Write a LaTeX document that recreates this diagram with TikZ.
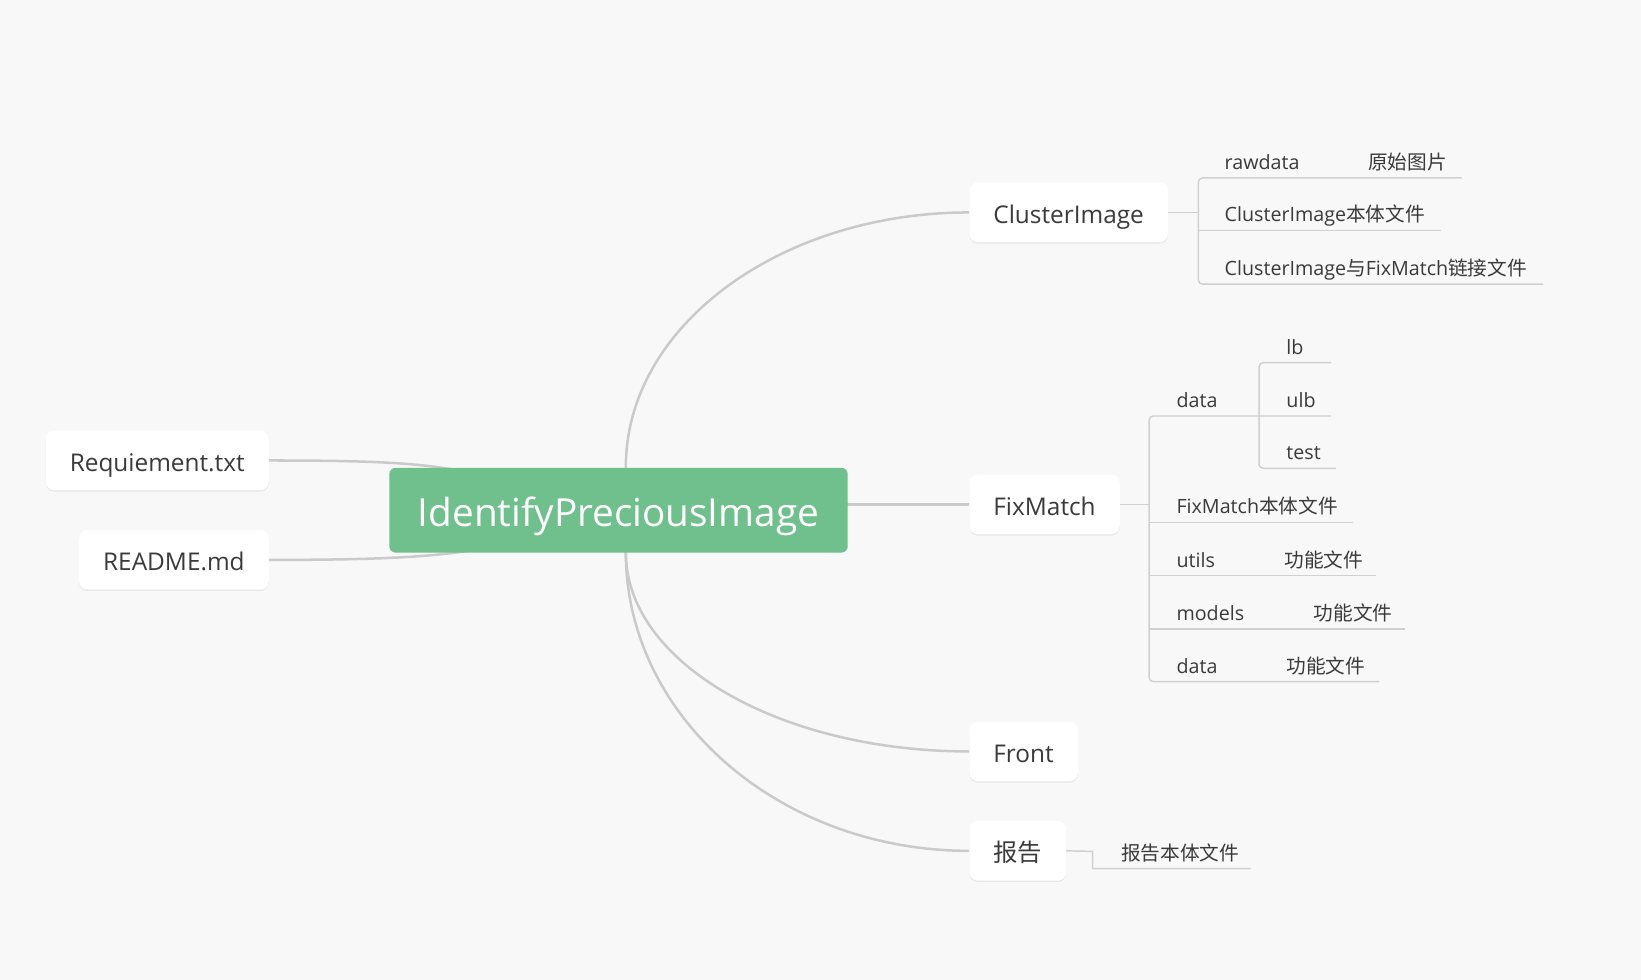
\documentclass[tikz,border=0pt]{standalone}
\usepackage{fontspec}
\setmainfont{Open Sans}
\newfontfamily\cjk{Noto Sans CJK SC}
\usetikzlibrary{shadows}
\definecolor{bgc}{HTML}{F8F8F8}
\definecolor{linec}{HTML}{CACACA}
\definecolor{subline}{HTML}{D0D0D0}
\definecolor{rootc}{HTML}{6FC08D}
\definecolor{txt}{HTML}{3A3A3A}
\newcommand{\zh}[1]{{\cjk #1}}
\begin{document}
\begin{tikzpicture}[x=1pt,y=-1pt,
  box/.style={fill=white, rounded corners=8pt, inner xsep=23pt, inner ysep=0pt,
    minimum height=57pt, text=txt, font=\fontsize{23.3}{28}\selectfont,
    text height=21pt, text depth=0pt,
    drop shadow={shadow xshift=0pt, shadow yshift=-1.2pt, opacity=0.07, fill=black}},
  rootbox/.style={fill=rootc, rounded corners=6pt, minimum width=438pt,
    minimum height=81pt, inner sep=0pt, text=white, font=\fontsize{37}{42}\selectfont,
    text height=31pt, text depth=0pt},
  lbl/.style={anchor=base west, inner sep=0pt, text=txt, font=\fontsize{18.8}{22}\selectfont},
  branch/.style={draw=linec, line width=2.4pt},
  subl/.style={draw=subline, line width=1.4pt},
]
\useasboundingbox[fill=bgc] (0,0) rectangle (1568,936);

% boxes
\node[box, anchor=west] (ci) at (926,203) {ClusterImage};
\node[box, anchor=west] (fm) at (926,482) {FixMatch};
\node[box, anchor=west] (fr) at (926,718) {Front};
\node[box, anchor=west] (bg) at (926,813) {\zh{报告}};
\node[box, anchor=east] (req) at (257,440) {Requiement.txt};
\node[box, anchor=east] (rdm) at (257,535) {README.md};

% main branches (drawn below the root box)
\coordinate (rc) at (591,487.5);
\draw[branch] (req.east) .. controls (350,440) and (400,442) .. (440,450) -- (rc);
\draw[branch] (rdm.east) .. controls (350,535) and (410,533) .. (455,525) -- (rc);
\draw[branch] (598,460) -- (598,446) .. controls (598,312) and (745,203) .. (ci.west);
\draw[branch] (598,515) -- (598,528) .. controls (598,633) and (745,718) .. (fr.west);
\draw[branch] (598,515) -- (598,528) .. controls (598,685) and (745,813) .. (bg.west);
\draw[branch] (780,482) -- (fm.west);

\node[rootbox] (r) at (rc) {IdentifyPreciousImage};

% ClusterImage sub topics
\draw[subl] (ci.east) -- (1145,203);
\draw[subl, rounded corners=4pt] (1396.5,170) -- (1145,170) -- (1145,271.5) -- (1474.5,271.5);
\draw[subl] (1145,220) -- (1376.5,220);
\node[lbl] (c1) at (1170,162) {rawdata};
\node[lbl] (c1a) at (1307,162) {\zh{原始图片}};
\node[lbl] (c2) at (1170,212) {ClusterImage\zh{本体文件}};
\node[lbl] (c3) at (1170,263.5) {ClusterImage\zh{与}FixMatch\zh{链接文件}};

% FixMatch sub topics
\draw[subl] (fm.east) -- (1098,482);
\draw[subl, rounded corners=4pt] (1271.8,397.5) -- (1098,397.5) -- (1098,651.3) -- (1318,651.3);
\draw[subl, rounded corners=4pt] (1271.8,346.5) -- (1203,346.5) -- (1203,447.5) -- (1276.5,447.5);
\draw[subl] (1098,499) -- (1292.5,499);
\draw[subl] (1098,550) -- (1315,550);
\draw[subl] (1098,601) -- (1342.5,601);
\node[lbl] (f1) at (1124,389.5) {data};
\node[lbl] (f1a) at (1229,338.5) {lb};
\node[lbl] (f1b) at (1229,389.5) {ulb};
\node[lbl] (f1c) at (1229,439.5) {test};
\node[lbl] (f2) at (1124,491) {FixMatch\zh{本体文件}};
\node[lbl] (f3) at (1124,542) {utils};
\node[lbl] (f3a) at (1227,542) {\zh{功能文件}};
\node[lbl] (f4) at (1124,593) {models};
\node[lbl] (f4a) at (1255,593) {\zh{功能文件}};
\node[lbl] (f5) at (1124,643.3) {data};
\node[lbl] (f5a) at (1229,643.3) {\zh{功能文件}};

% report sub topic
\draw[subl] (bg.east) -- (1044,813.5) -- (1044,830) -- (1195,830);
\node[lbl] (b1) at (1071,822) {\zh{报告本体文件}};
\end{tikzpicture}
\end{document}
